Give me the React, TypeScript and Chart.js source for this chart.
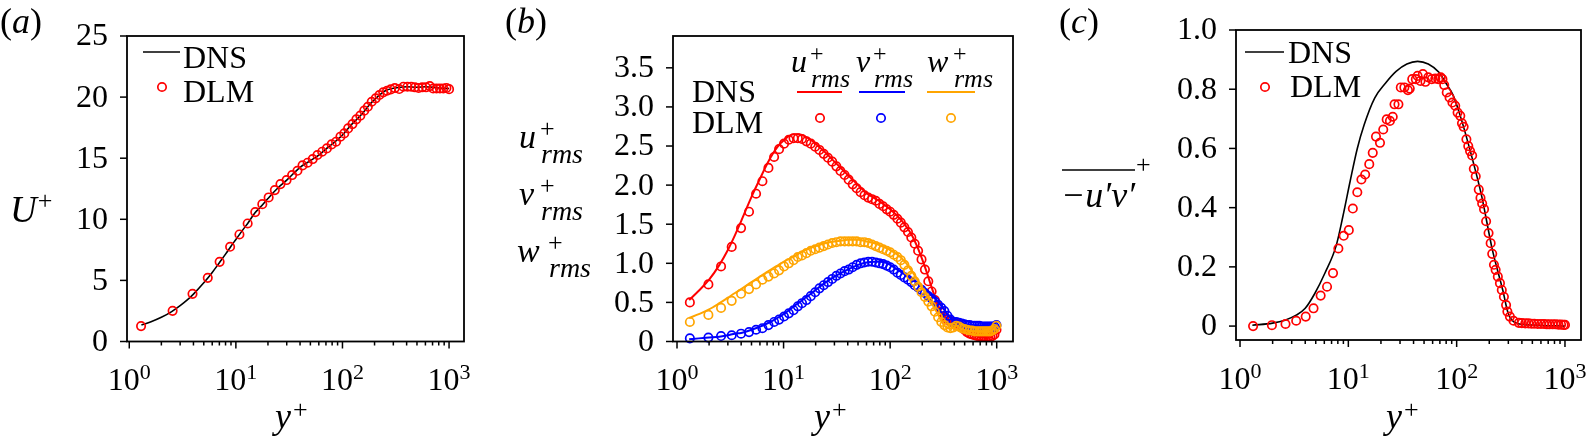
import React, { useEffect, useRef } from 'react';
import { Chart, registerables } from 'chart.js';

Chart.register(...registerables);

const W = 1587;
const H = 445;
const SERIF = '"Liberation Serif", "Times New Roman", Times, "DejaVu Serif", serif';

// ---------- panel (a): mean velocity ----------
const aDlmYp = [1.29, 2.55, 3.92, 5.45, 7.04, 8.83, 10.8, 12.9, 15.2, 17.7, 20.3, 23.2, 26.2, 29.9, 33.7, 37.8, 42.2, 47.1, 52.6, 58.2, 64.5, 71.4, 79.1, 87.1, 95.7, 104, 113, 124, 135, 147, 160, 173, 188, 205, 222, 241, 262, 284, 310, 341, 373, 407, 441, 478, 518, 561, 608, 659, 709, 763, 821, 884, 944, 1000];
const aDlmU = [1.26, 2.51, 3.9, 5.21, 6.52, 7.75, 8.76, 9.66, 10.59, 11.24, 11.79, 12.39, 12.88, 13.21, 13.62, 13.97, 14.41, 14.63, 14.93, 15.26, 15.53, 15.8, 16.13, 16.35, 16.76, 17.03, 17.44, 17.79, 18.18, 18.48, 18.89, 19.21, 19.62, 19.9, 20.17, 20.39, 20.52, 20.63, 20.74, 20.66, 20.85, 20.85, 20.85, 20.8, 20.75, 20.8, 20.8, 20.9, 20.7, 20.7, 20.7, 20.7, 20.75, 20.65];
const aDnsYp = [1.3, 1.6, 2, 2.5, 3, 3.5, 4, 5, 6, 7, 8, 9, 10, 11, 12, 13, 15, 17, 20, 25, 30, 40, 50, 60, 70, 80, 100, 120, 150, 180, 200, 250, 300, 400, 500, 600, 800, 1000];
const aDnsU = [1.35, 1.62, 1.98, 2.45, 2.93, 3.4, 3.88, 4.8, 5.65, 6.45, 7.15, 7.8, 8.35, 8.85, 9.3, 9.7, 10.5, 11.0, 11.7, 12.6, 13.2, 14.25, 14.8, 15.25, 15.75, 16.15, 16.9, 17.7, 18.55, 19.4, 19.8, 20.5, 20.72, 20.85, 20.8, 20.85, 20.75, 20.7];
const aYTicks = [0, 5, 10, 15, 20, 25];

// ---------- panel (b): rms velocity fluctuations ----------
const bDlmYp = [1.32, 1.97, 2.59, 3.26, 3.99, 4.74, 5.52, 6.33, 7.21, 8.15, 9.07, 10.1, 11.2, 12.4, 13.6, 14.9, 16.4, 18.0, 19.8, 21.7, 23.8, 26.1, 28.6, 31.3, 34.2, 37.4, 40.8, 44.5, 48.5, 52.8, 57.4, 62.3, 67.6, 73.3, 79.4, 85.9, 92.9, 100, 108, 117, 126, 136, 147, 158, 170, 183, 197, 212, 228, 245, 263, 282, 302, 323, 345, 368, 392, 417, 443, 470, 498, 527, 557, 588, 620, 653, 687, 722, 758, 795, 833, 872, 912, 953, 995];
const bDlmU = [0.5, 0.73, 0.96, 1.21, 1.45, 1.66, 1.89, 2.05, 2.22, 2.36, 2.46, 2.53, 2.58, 2.6, 2.6, 2.59, 2.56, 2.53, 2.49, 2.45, 2.4, 2.35, 2.3, 2.24, 2.18, 2.13, 2.07, 2.01, 1.96, 1.91, 1.87, 1.84, 1.82, 1.8, 1.76, 1.73, 1.69, 1.66, 1.62, 1.57, 1.52, 1.46, 1.4, 1.33, 1.25, 1.16, 1.05, 0.92, 0.77, 0.64, 0.53, 0.45, 0.38, 0.32, 0.28, 0.26, 0.24, 0.23, 0.22, 0.19, 0.15, 0.12, 0.1, 0.09, 0.08, 0.07, 0.07, 0.06, 0.06, 0.06, 0.06, 0.06, 0.07, 0.09, 0.15];
const bDlmV = [0.04, 0.05, 0.07, 0.08, 0.1, 0.12, 0.15, 0.17, 0.21, 0.25, 0.28, 0.32, 0.36, 0.4, 0.45, 0.49, 0.53, 0.58, 0.63, 0.68, 0.72, 0.76, 0.8, 0.84, 0.87, 0.9, 0.92, 0.95, 0.98, 1.0, 1.01, 1.02, 1.02, 1.01, 1.0, 0.99, 0.97, 0.95, 0.92, 0.88, 0.85, 0.82, 0.79, 0.76, 0.72, 0.69, 0.66, 0.62, 0.58, 0.55, 0.51, 0.47, 0.43, 0.39, 0.33, 0.28, 0.25, 0.25, 0.24, 0.23, 0.22, 0.21, 0.21, 0.2, 0.2, 0.2, 0.2, 0.19, 0.19, 0.19, 0.19, 0.19, 0.19, 0.19, 0.21];
const bDlmW = [0.25, 0.34, 0.43, 0.52, 0.61, 0.67, 0.73, 0.79, 0.83, 0.87, 0.91, 0.96, 1.0, 1.04, 1.08, 1.1, 1.13, 1.16, 1.18, 1.2, 1.22, 1.24, 1.26, 1.27, 1.28, 1.28, 1.28, 1.28, 1.28, 1.27, 1.27, 1.26, 1.24, 1.22, 1.2, 1.18, 1.16, 1.14, 1.11, 1.08, 1.04, 0.98, 0.91, 0.84, 0.77, 0.7, 0.63, 0.57, 0.51, 0.45, 0.38, 0.31, 0.25, 0.21, 0.18, 0.17, 0.18, 0.2, 0.19, 0.17, 0.16, 0.15, 0.14, 0.14, 0.13, 0.13, 0.13, 0.13, 0.13, 0.13, 0.13, 0.13, 0.14, 0.16, 0.2];
const bDnsYp = [1.3, 1.6, 2, 2.5, 3, 3.5, 4, 5, 6, 7, 8, 9, 10, 11, 12.5, 14, 16, 18, 20, 25, 30, 35, 40, 50, 60, 70, 80, 90, 100, 120, 140, 160, 180, 200, 220, 240, 260, 280, 300, 320, 350, 380, 420, 460, 520, 600, 700, 800, 900, 1000];
const bDnsU = [0.53, 0.65, 0.79, 0.98, 1.17, 1.36, 1.54, 1.85, 2.08, 2.27, 2.41, 2.51, 2.57, 2.62, 2.65, 2.65, 2.62, 2.58, 2.53, 2.41, 2.3, 2.21, 2.13, 2.0, 1.9, 1.84, 1.79, 1.74, 1.69, 1.59, 1.48, 1.36, 1.21, 1.05, 0.89, 0.73, 0.59, 0.47, 0.38, 0.33, 0.28, 0.25, 0.23, 0.2, 0.12, 0.08, 0.06, 0.06, 0.07, 0.15];
const bDnsV = [0.03, 0.04, 0.05, 0.06, 0.08, 0.1, 0.11, 0.15, 0.19, 0.23, 0.27, 0.31, 0.35, 0.39, 0.45, 0.5, 0.56, 0.61, 0.66, 0.76, 0.83, 0.88, 0.92, 0.98, 1.01, 1.02, 1.02, 1.01, 0.98, 0.91, 0.85, 0.79, 0.75, 0.7, 0.65, 0.6, 0.56, 0.51, 0.46, 0.41, 0.34, 0.28, 0.26, 0.24, 0.22, 0.21, 0.2, 0.2, 0.19, 0.21];
const bDnsW = [0.3, 0.35, 0.41, 0.49, 0.56, 0.62, 0.67, 0.76, 0.83, 0.89, 0.94, 0.98, 1.02, 1.05, 1.09, 1.13, 1.17, 1.2, 1.22, 1.26, 1.28, 1.29, 1.3, 1.3, 1.28, 1.26, 1.23, 1.2, 1.17, 1.1, 1.01, 0.9, 0.79, 0.68, 0.59, 0.51, 0.43, 0.35, 0.27, 0.21, 0.17, 0.17, 0.2, 0.17, 0.14, 0.13, 0.13, 0.13, 0.14, 0.2];
const bYTicks = [0, 0.5, 1.0, 1.5, 2.0, 2.5, 3.0, 3.5];

// ---------- panel (c): Reynolds shear stress ----------
const cDlmYp = [1.32, 1.97, 2.63, 3.3, 4.04, 4.77, 5.55, 6.36, 7.22, 8.09, 9.06, 10.1, 11.0, 12.1, 13.2, 14.3, 15.6, 16.8, 18.0, 19.6, 21.0, 22.6, 24.2, 25.7, 26.7, 29.0, 30.5, 32.9, 35.5, 36.9, 38.9, 42.0, 43.6, 46.3, 48.8, 51.5, 54.7, 58.9, 63.5, 67.6, 71.2, 73.9, 76.8, 81.0, 86.0, 91.4, 97.0, 102, 108, 112, 116, 123, 128, 133, 139, 144, 150, 160, 166, 172, 179, 187, 197, 206, 213, 221, 229, 240, 251, 261, 273, 286, 294, 310, 335, 375, 400, 430, 460, 490, 520, 560, 600, 640, 680, 720, 770, 820, 870, 920, 970, 1000];
const cDlmUV = [0.0, 0.003, 0.007, 0.018, 0.032, 0.06, 0.103, 0.133, 0.179, 0.262, 0.305, 0.324, 0.397, 0.452, 0.495, 0.512, 0.547, 0.585, 0.64, 0.619, 0.664, 0.698, 0.693, 0.707, 0.749, 0.749, 0.806, 0.806, 0.797, 0.802, 0.834, 0.834, 0.845, 0.828, 0.851, 0.825, 0.84, 0.834, 0.836, 0.834, 0.84, 0.834, 0.814, 0.789, 0.772, 0.755, 0.744, 0.721, 0.71, 0.685, 0.673, 0.631, 0.608, 0.591, 0.576, 0.531, 0.506, 0.461, 0.433, 0.414, 0.395, 0.354, 0.314, 0.28, 0.244, 0.207, 0.19, 0.167, 0.145, 0.122, 0.099, 0.071, 0.049, 0.032, 0.018, 0.011, 0.01, 0.009, 0.009, 0.008, 0.008, 0.007, 0.007, 0.007, 0.006, 0.006, 0.006, 0.006, 0.005, 0.005, 0.004, 0.004];
const cDnsYp = [1.3, 2, 2.6, 3.3, 4.0, 4.9, 6.1, 7.7, 8.9, 10.4, 12.1, 14, 17.5, 22, 27.6, 34.7, 43.6, 54.7, 68.6, 79.7, 92.6, 108, 135, 170, 213, 267, 299, 335, 450, 600, 800, 1000];
const cDnsUV = [0.003, 0.01, 0.02, 0.037, 0.06, 0.11, 0.18, 0.27, 0.37, 0.49, 0.6, 0.68, 0.77, 0.82, 0.86, 0.885, 0.894, 0.885, 0.857, 0.82, 0.78, 0.71, 0.585, 0.44, 0.26, 0.12, 0.043, 0.015, 0.004, 0.002, 0.001, 0.0];
const cYTicks = [0, 0.2, 0.4, 0.6, 0.8, 1.0];

const RED = '#ff0000';
const BLUE = '#0000ff';
const ORANGE = '#ffa500';

type Box = { l: number; t: number; r: number; b: number };
type PanelSpec = {
  id: string;
  box: Box;
  xRange: [number, number];
  yRange: [number, number];
  yTicks: number[];
  yFmt: (v: number) => string;
  datasets: any[];
  extras: (ctx: CanvasRenderingContext2D) => void;
};

const pts = (xs: number[], ys: number[]) => xs.map((x, i) => ({ x, y: ys[i] }));

const dnsSet = (xs: number[], ys: number[], color: string, width: number) => ({
  data: pts(xs, ys),
  showLine: true,
  borderColor: color,
  borderWidth: width,
  pointRadius: 0,
  cubicInterpolationMode: 'monotone',
  fill: false,
});

const dlmSet = (xs: number[], ys: number[], color: string) => ({
  data: pts(xs, ys),
  showLine: false,
  pointStyle: 'circle',
  pointRadius: 4.2,
  pointBorderWidth: 1.7,
  pointBorderColor: color,
  pointBackgroundColor: 'rgba(0,0,0,0)',
  borderColor: color,
  backgroundColor: 'rgba(0,0,0,0)',
});

function font(size: number, italic = false) {
  return `${italic ? 'italic ' : ''}${size}px ${SERIF}`;
}

function text(ctx: CanvasRenderingContext2D, s: string, x: number, y: number, size: number, italic = false) {
  ctx.font = font(size, italic);
  ctx.textAlign = 'left';
  ctx.textBaseline = 'alphabetic';
  ctx.fillText(s, x, y);
  return ctx.measureText(s).width;
}

function seg(ctx: CanvasRenderingContext2D, x1: number, y1: number, x2: number, y2: number) {
  ctx.beginPath();
  ctx.moveTo(x1, y1);
  ctx.lineTo(x2, y2);
  ctx.stroke();
}

function circle(ctx: CanvasRenderingContext2D, x: number, y: number, color: string) {
  ctx.save();
  ctx.strokeStyle = color;
  ctx.lineWidth = 1.7;
  ctx.beginPath();
  ctx.arc(x, y, 4.2, 0, Math.PI * 2);
  ctx.stroke();
  ctx.restore();
}

function panelTag(ctx: CanvasRenderingContext2D, letter: string, x: number) {
  let cx = x;
  cx += text(ctx, '(', cx, 33, 36);
  cx += text(ctx, letter, cx, 33, 36, true);
  text(ctx, ')', cx, 33, 36);
}

function yPlus(ctx: CanvasRenderingContext2D, x: number) {
  const w = text(ctx, 'y', x, 428, 36, true);
  text(ctx, '+', x + w + 2, 418, 26);
}

function rmsSymbol(ctx: CanvasRenderingContext2D, letter: string, x: number, base: number, big: number, sup: number, sub: number, supX: number) {
  text(ctx, letter, x, base, big, true);
  text(ctx, '+', supX, base - 11, sup);
  text(ctx, 'rms', supX + 1, base + 15, sub, true);
}

function framePlugin(p: PanelSpec) {
  return {
    id: 'frame_' + p.id,
    afterDraw(chart: any) {
      const ctx: CanvasRenderingContext2D = chart.ctx;
      const a = chart.chartArea;
      const xs = chart.scales.x;
      const ys = chart.scales.y;
      ctx.save();
      ctx.strokeStyle = '#000';
      ctx.fillStyle = '#000';
      ctx.lineWidth = 1.8;
      ctx.strokeRect(a.left, a.top, a.right - a.left, a.bottom - a.top);

      // y ticks point outwards
      ctx.lineWidth = 1.5;
      p.yTicks.forEach((v) => {
        const py = ys.getPixelForValue(v);
        seg(ctx, a.left - 7, py, a.left, py);
        ctx.font = font(32);
        ctx.textAlign = 'right';
        ctx.textBaseline = 'middle';
        ctx.fillText(p.yFmt(v), a.left - 19, py + 1);
      });

      // log x axis: decade labels 10^n plus minor ticks
      for (let d = 0; d <= 3; d++) {
        for (let m = 1; m <= 9; m++) {
          const v = m * Math.pow(10, d);
          if (v < p.xRange[0] || v > p.xRange[1]) continue;
          const px = xs.getPixelForValue(v);
          seg(ctx, px, a.bottom, px, a.bottom + (m === 1 ? 7 : 4));
          if (m === 1) {
            ctx.font = font(32);
            const wb = ctx.measureText('10').width;
            ctx.font = font(22);
            const we = ctx.measureText(String(d)).width;
            const x0 = px - (wb + we) / 2;
            const base = a.bottom + 48.5;
            text(ctx, '10', x0, base, 32);
            text(ctx, String(d), x0 + wb, base - 11, 22);
          }
        }
      }

      p.extras(ctx);
      ctx.restore();
    },
  };
}

const PANELS: PanelSpec[] = [
  {
    id: 'a',
    box: { l: 127, t: 36, r: 464, b: 341.5 },
    xRange: [0.952, 1381],
    yRange: [0, 25],
    yTicks: aYTicks,
    yFmt: (v) => String(v),
    datasets: [dlmSet(aDlmYp, aDlmU, RED), dnsSet(aDnsYp, aDnsU, '#000', 1.6)],
    extras: (ctx) => {
      panelTag(ctx, 'a', 0);
      const w = text(ctx, 'U', 10, 222, 37, true);
      text(ctx, '+', 10 + w + 1, 209, 26);
      yPlus(ctx, 275);
      ctx.lineWidth = 1.6;
      seg(ctx, 143, 52, 180, 52);
      text(ctx, 'DNS', 183, 68, 32);
      circle(ctx, 162, 87, RED);
      text(ctx, 'DLM', 183, 102, 32);
    },
  },
  {
    id: 'b',
    box: { l: 673, t: 36, r: 1013, b: 341.5 },
    xRange: [0.917, 1422],
    yRange: [0, 3.907],
    yTicks: bYTicks,
    yFmt: (v) => (v === 0 ? '0' : v.toFixed(1)),
    datasets: [
      dlmSet(bDlmYp, bDlmW, ORANGE),
      dnsSet(bDnsYp, bDnsW, ORANGE, 2),
      dlmSet(bDlmYp, bDlmV, BLUE),
      dnsSet(bDnsYp, bDnsV, BLUE, 2),
      dlmSet(bDlmYp, bDlmU, RED),
      dnsSet(bDnsYp, bDnsU, RED, 2),
    ],
    extras: (ctx) => {
      panelTag(ctx, 'b', 505);
      rmsSymbol(ctx, 'u', 519, 148, 34, 26, 28, 540);
      rmsSymbol(ctx, 'v', 519, 205, 34, 26, 28, 540);
      rmsSymbol(ctx, 'w', 517, 262, 34, 26, 28, 548);
      yPlus(ctx, 814);
      text(ctx, 'DNS', 692, 102, 32);
      text(ctx, 'DLM', 692, 133, 32);
      rmsSymbol(ctx, 'u', 791, 72, 32, 24, 26, 810);
      rmsSymbol(ctx, 'v', 856, 72, 32, 24, 26, 873);
      rmsSymbol(ctx, 'w', 927, 72, 32, 24, 26, 953);
      ctx.lineWidth = 2;
      ctx.strokeStyle = RED;
      seg(ctx, 797, 92, 842, 92);
      ctx.strokeStyle = BLUE;
      seg(ctx, 859, 92, 905, 92);
      ctx.strokeStyle = ORANGE;
      seg(ctx, 927, 92, 975, 92);
      circle(ctx, 820, 118, RED);
      circle(ctx, 881, 118, BLUE);
      circle(ctx, 951, 118, ORANGE);
    },
  },
  {
    id: 'c',
    box: { l: 1236, t: 30, r: 1581, b: 340 },
    xRange: [0.918, 1406],
    yRange: [-0.047, 1.0],
    yTicks: cYTicks,
    yFmt: (v) => (v === 0 ? '0' : v.toFixed(1)),
    datasets: [dlmSet(cDlmYp, cDlmUV, RED), dnsSet(cDnsYp, cDnsUV, '#000', 1.6)],
    extras: (ctx) => {
      panelTag(ctx, 'c', 1059);
      const w = text(ctx, '\u2212u\u2032v\u2032', 1061, 207, 36, true);
      ctx.lineWidth = 1.6;
      seg(ctx, 1062, 170, 1061 + w, 170);
      text(ctx, '+', 1061 + w + 1, 173, 26);
      yPlus(ctx, 1386);
      ctx.lineWidth = 1.6;
      seg(ctx, 1245, 52, 1284, 52);
      text(ctx, 'DNS', 1288, 63, 32);
      circle(ctx, 1265, 87, RED);
      text(ctx, 'DLM', 1290, 97, 32);
    },
  },
];

function PanelChart({ spec }: { spec: PanelSpec }) {
  const canvasRef = useRef<HTMLCanvasElement | null>(null);

  useEffect(() => {
    if (!canvasRef.current) return;
    const { box } = spec;
    const chart = new Chart(canvasRef.current, {
      type: 'scatter',
      data: { datasets: spec.datasets as any },
      options: {
        animation: false,
        responsive: false,
        devicePixelRatio: 1,
        events: [],
        clip: false as any,
        layout: {
          autoPadding: false,
          padding: { left: box.l, top: box.t, right: W - box.r, bottom: H - box.b },
        },
        plugins: { legend: { display: false }, tooltip: { enabled: false } },
        scales: {
          x: { type: 'logarithmic', min: spec.xRange[0], max: spec.xRange[1], display: false },
          y: { type: 'linear', min: spec.yRange[0], max: spec.yRange[1], display: false },
        },
      },
      plugins: [framePlugin(spec)],
    });
    return () => chart.destroy();
  }, [spec]);

  return (
    <canvas
      ref={canvasRef}
      width={W}
      height={H}
      style={{ position: 'absolute', left: 0, top: 0, width: W, height: H }}
    />
  );
}

export default function App() {
  return (
    <div style={{ position: 'absolute', left: 0, top: 0, width: W, height: H, background: '#fff' }}>
      {PANELS.map((p) => (
        <PanelChart key={p.id} spec={p} />
      ))}
    </div>
  );
}
